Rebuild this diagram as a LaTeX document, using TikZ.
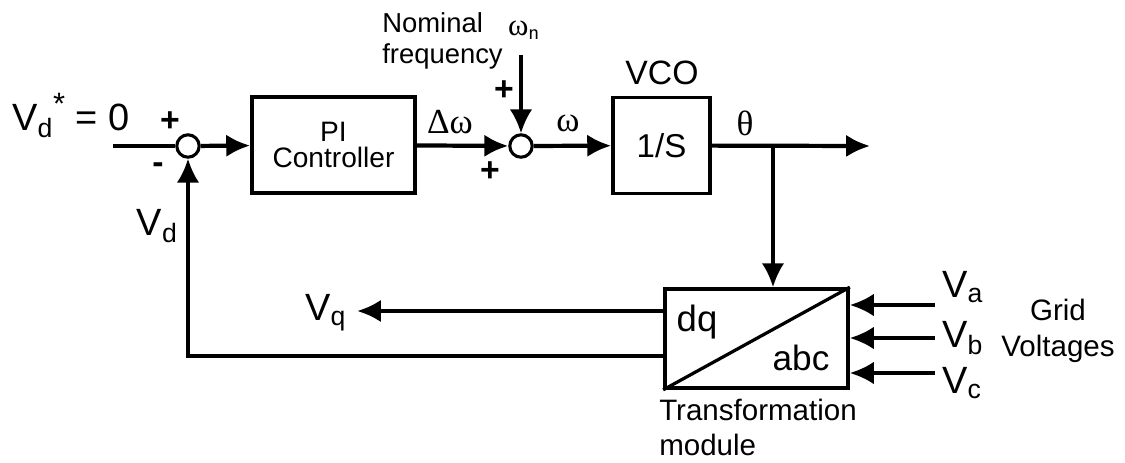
\documentclass[tikz,border=0pt]{standalone}
\usepackage{fontspec}
\setmainfont{Liberation Sans}
\newfontfamily\grk{Liberation Serif}
\usetikzlibrary{arrows.meta,positioning}
\tikzset{
  >={Latex[length=17pt,width=16pt]},
  every node/.style={font=\fontsize{18}{21}\selectfont,text=black},
  big/.style={font=\fontsize{27}{30}\selectfont,inner sep=0pt},
  mid/.style={font=\fontsize{21}{25}\selectfont,inner sep=0pt},
  small/.style={font=\fontsize{19.5}{22}\selectfont,inner sep=0pt},
  greek/.style={font=\fontsize{25}{28}\selectfont\grk,inner sep=0pt},
  sign/.style={font=\fontsize{24}{24}\selectfont\bfseries,inner sep=0pt},
  block/.style={draw,line width=2.6pt,align=center,inner sep=0pt},
  sumnode/.style={circle,draw,line width=2.2pt,minimum size=0.56cm,inner sep=0pt},
  sig/.style={line width=3pt},
  fbline/.style={line width=2.3pt},
}

\begin{document}
\begin{tikzpicture}[x=0.025cm,y=-0.025cm]
  \useasboundingbox (0,0) rectangle (1125,462);

  % Forward path
  \coordinate (in) at (113,146);
  \node[sumnode] (s1) at (188,146) {};
  \node[block,minimum width=4.075cm,minimum height=2.4cm,font=\fontsize{20}{19}\selectfont] (pi) at (333.5,145) {PI\\Controller};
  \node[sumnode] (s2) at (521,146) {};
  \node[block,minimum width=2.425cm,minimum height=2.4cm,font=\fontsize{23.5}{26}\selectfont] (vco) at (661.5,145.5) {1/S};
  \coordinate (out) at (870,146);
  \coordinate (br) at (773,146);
  \coordinate (wn) at (521,55);

  \draw[sig] (in) -- (s1);
  \draw[sig,->] (s1) -- (pi);
  \draw[sig,->] (pi) -- (s2);
  \draw[sig,->] (s2) -- (vco);
  \draw[sig,->] (vco) -- (out);
  \draw[fbline,->] (wn) -- (s2);

  % Transformation module
  \node[block,minimum width=4.575cm,minimum height=2.475cm] (tr) at (756.5,338.5) {};
  \draw[fbline] (tr.south west) -- (tr.north east);
  \node[font=\fontsize{26}{28}\selectfont,inner sep=0pt] (dq) at (697,322) {dq};
  \node[font=\fontsize{25}{28}\selectfont,inner sep=0pt] (abc) at (801,358) {abc};
  \draw[fbline,->] (br) -- (br |- tr.north);

  % Feedback
  \coordinate (vqend) at (357,311);
  \coordinate (vdst) at (665,356);
  \draw[sig,->] (tr.west |- vqend) -- (vqend);
  \draw[fbline,->] (vdst) -| (s1);

  % Grid inputs
  \coordinate (ga) at (935,305);
  \coordinate (gb) at (935,338);
  \coordinate (gc) at (935,373);
  \draw[fbline,->] (ga) -- (ga -| tr.east);
  \draw[fbline,->] (gb) -- (gb -| tr.east);
  \draw[fbline,->] (gc) -- (gc -| tr.east);

  % Labels
  \node[big,anchor=base west] (vdref) at (12,130) {V\textsubscript{d}\raisebox{0.42em}{\fontsize{22}{22}\selectfont *} = 0};
  \node[sign] (p1) at (170,122) {+};
  \node[sign] (m1) at (158,168) {-};
  \node[sign] (p2) at (504,91) {+};
  \node[sign] (p3) at (490,172) {+};
  \node[greek] (dw) at (450,122) {Δω};
  \node[greek] (w) at (568,123) {ω};
  \node[greek] (th) at (745,123) {θ};
  \node[mid,font=\fontsize{24}{26}\selectfont] (vcol) at (662,73) {VCO};
  \node[small,align=left,anchor=west] (nom) at (382,41) {Nominal\\frequency};
  \node[font=\fontsize{22}{24}\selectfont\grk,inner sep=0pt] (wnl) at (524,30) {ω\textsubscript{\sffamily n}};
  \node[big,anchor=base east] (vdl) at (178,235) {V\textsubscript{d}};
  \node[big,anchor=base west] (vql) at (305,320) {V\textsubscript{q}};
  \node[big,anchor=base west] (val) at (942,297) {V\textsubscript{a}};
  \node[big,anchor=base west] (vbl) at (942,347) {V\textsubscript{b}};
  \node[big,anchor=base west] (vcl) at (942,393) {V\textsubscript{c}};
  \node[mid,align=center,font=\fontsize{21}{26}\selectfont] (grid) at (1058,331) {Grid\\Voltages};
  \node[mid,align=left,anchor=north west,font=\fontsize{21}{25}\selectfont] (tml) at (659,399) {Transformation\\module};
\end{tikzpicture}
\end{document}
